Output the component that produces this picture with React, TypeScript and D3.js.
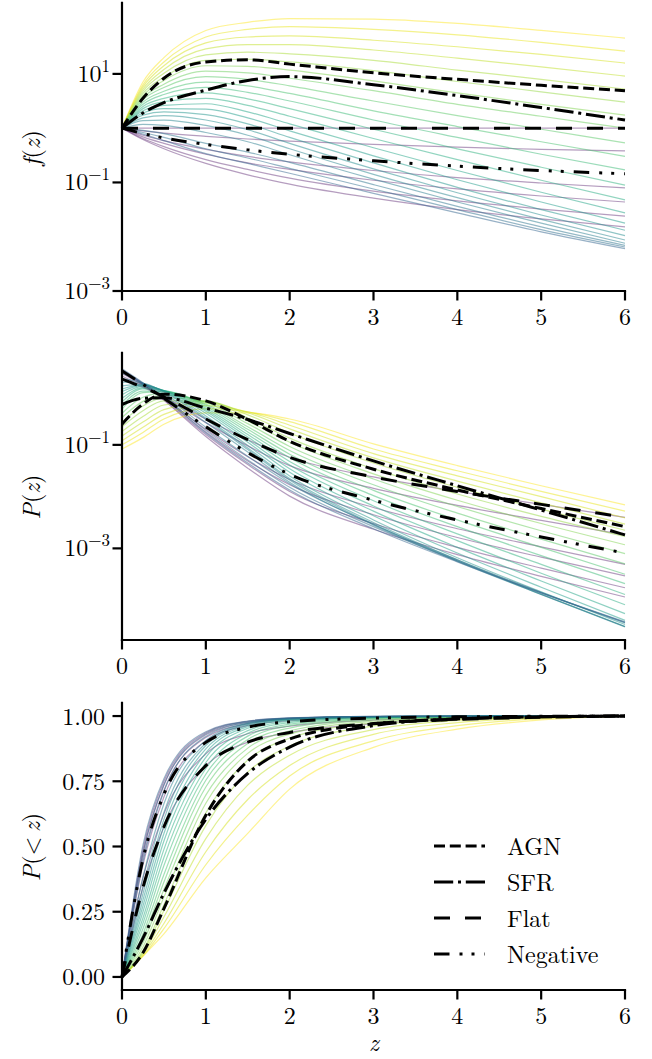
import React from 'react';
import * as d3 from 'd3';

// ---------- data ----------
const zNodes = [0, 0.25, 0.5, 1, 1.5, 2, 3, 4, 5, 6];

// log10 f(z) — viridis family, yellow (first) to blue (last)
const logF_viridis: number[][] = [
  [0, 0.85, 1.30, 1.80, 1.95, 2.02, 2.01, 1.93, 1.80, 1.66],
  [0, 0.80, 1.22, 1.68, 1.82, 1.87, 1.82, 1.72, 1.58, 1.42],
  [0, 0.76, 1.15, 1.57, 1.68, 1.70, 1.62, 1.50, 1.36, 1.20],
  [0, 0.72, 1.08, 1.46, 1.54, 1.54, 1.44, 1.29, 1.13, 0.96],
  [0, 0.68, 1.01, 1.35, 1.40, 1.37, 1.25, 1.07, 0.90, 0.72],
  [0, 0.64, 0.94, 1.25, 1.27, 1.22, 1.06, 0.86, 0.67, 0.48],
  [0, 0.60, 0.88, 1.15, 1.14, 1.07, 0.87, 0.65, 0.44, 0.24],
  [0, 0.56, 0.81, 1.05, 1.02, 0.92, 0.69, 0.44, 0.22, 0.00],
  [0, 0.52, 0.75, 0.95, 0.90, 0.78, 0.50, 0.23, -0.02, -0.27],
  [0, 0.48, 0.68, 0.85, 0.78, 0.64, 0.32, 0.03, -0.25, -0.52],
  [0, 0.44, 0.62, 0.75, 0.66, 0.50, 0.15, -0.17, -0.48, -0.77],
  [0, 0.40, 0.55, 0.65, 0.54, 0.36, -0.02, -0.38, -0.72, -1.05],
  [0, 0.36, 0.49, 0.55, 0.42, 0.22, -0.19, -0.58, -0.96, -1.32],
  [0, 0.32, 0.42, 0.45, 0.30, 0.08, -0.36, -0.78, -1.18, -1.56],
  [0, 0.28, 0.36, 0.35, 0.19, -0.05, -0.51, -0.95, -1.36, -1.75],
  [0, 0.24, 0.30, 0.25, 0.08, -0.17, -0.64, -1.09, -1.50, -1.88],
  [0, 0.19, 0.23, 0.15, -0.03, -0.28, -0.75, -1.19, -1.60, -1.98],
  [0, 0.14, 0.15, 0.05, -0.13, -0.38, -0.85, -1.28, -1.68, -2.06],
  [0, 0.07, 0.05, -0.08, -0.25, -0.49, -0.94, -1.36, -1.75, -2.12],
  [0, -0.04, -0.10, -0.28, -0.44, -0.63, -1.04, -1.44, -1.82, -2.16],
  [0, -0.08, -0.17, -0.38, -0.55, -0.74, -1.12, -1.50, -1.87, -2.19],
  [0, -0.11, -0.23, -0.47, -0.65, -0.83, -1.20, -1.56, -1.91, -2.22],
];
const logF_purple: number[][] = [
  [0, 0, 0, 0, 0, 0, 0, 0, 0, 0],
  [0, -0.05, -0.09, -0.15, -0.20, -0.24, -0.30, -0.35, -0.39, -0.42],
  [0, -0.13, -0.23, -0.39, -0.52, -0.62, -0.78, -0.91, -1.01, -1.10],
  [0, -0.16, -0.28, -0.48, -0.64, -0.76, -0.96, -1.12, -1.25, -1.36],
  [0, -0.19, -0.34, -0.58, -0.76, -0.92, -1.16, -1.34, -1.49, -1.62],
  [0, -0.21, -0.38, -0.65, -0.86, -1.03, -1.29, -1.50, -1.67, -1.82],
];
const logF_agn = [0, 0.55, 0.92, 1.22, 1.26, 1.18, 1.02, 0.90, 0.79, 0.69];
const logF_sfr = [0, 0.28, 0.47, 0.70, 0.88, 0.95, 0.80, 0.60, 0.38, 0.15];
const logF_flat = [0, 0, 0, 0, 0, 0, 0, 0, 0, 0];
const logF_neg = [0, -0.10, -0.18, -0.30, -0.40, -0.48, -0.60, -0.70, -0.78, -0.84];

// log10 P(z)
const logP_viridis: number[][] = [
  [-1.08, -0.86, -0.60, -0.38, -0.38, -0.50, -0.98, -1.40, -1.79, -2.16],
  [-1.00, -0.76, -0.50, -0.30, -0.36, -0.55, -1.08, -1.50, -1.90, -2.28],
  [-0.92, -0.66, -0.41, -0.24, -0.36, -0.62, -1.17, -1.60, -2.00, -2.41],
  [-0.83, -0.56, -0.32, -0.19, -0.38, -0.69, -1.25, -1.70, -2.12, -2.53],
  [-0.74, -0.45, -0.23, -0.16, -0.42, -0.77, -1.35, -1.82, -2.24, -2.65],
  [-0.65, -0.34, -0.15, -0.15, -0.48, -0.87, -1.46, -1.95, -2.38, -2.77],
  [-0.56, -0.25, -0.09, -0.16, -0.54, -0.95, -1.56, -2.07, -2.52, -2.93],
  [-0.47, -0.16, -0.04, -0.18, -0.59, -1.03, -1.66, -2.19, -2.66, -3.10],
  [-0.39, -0.08, 0.00, -0.21, -0.65, -1.11, -1.77, -2.32, -2.82, -3.30],
  [-0.31, 0.01, 0.03, -0.23, -0.70, -1.18, -1.88, -2.45, -2.98, -3.50],
  [-0.24, 0.04, 0.04, -0.26, -0.75, -1.25, -1.98, -2.58, -3.14, -3.68],
  [-0.17, 0.08, 0.05, -0.29, -0.80, -1.32, -2.08, -2.72, -3.31, -3.89],
  [-0.10, 0.10, 0.05, -0.32, -0.85, -1.39, -2.18, -2.85, -3.48, -4.09],
  [-0.03, 0.13, 0.05, -0.35, -0.90, -1.46, -2.28, -2.98, -3.63, -4.26],
  [0.03, 0.15, 0.05, -0.39, -0.95, -1.53, -2.37, -3.09, -3.75, -4.39],
  [0.08, 0.16, 0.04, -0.44, -1.01, -1.60, -2.45, -3.18, -3.84, -4.47],
  [0.14, 0.17, 0.03, -0.48, -1.06, -1.65, -2.50, -3.22, -3.88, -4.51],
  [0.21, 0.19, 0.02, -0.51, -1.09, -1.68, -2.53, -3.24, -3.89, -4.52],
  [0.28, 0.19, -0.01, -0.57, -1.14, -1.72, -2.55, -3.25, -3.89, -4.51],
  [0.39, 0.19, -0.05, -0.66, -1.22, -1.75, -2.54, -3.22, -3.85, -4.44],
  [0.43, 0.19, -0.08, -0.72, -1.29, -1.82, -2.58, -3.24, -3.86, -4.43],
  [0.47, 0.20, -0.10, -0.77, -1.35, -1.87, -2.62, -3.26, -3.86, -4.42],
];
const logP_purple: number[][] = [
  [0.27, 0.11, -0.07, -0.50, -0.90, -1.24, -1.62, -1.90, -2.15, -2.40],
  [0.33, 0.13, -0.08, -0.57, -1.02, -1.40, -1.84, -2.17, -2.46, -2.74],
  [0.38, 0.15, -0.10, -0.70, -1.23, -1.67, -2.21, -2.62, -2.97, -3.31],
  [0.41, 0.16, -0.11, -0.75, -1.31, -1.77, -2.35, -2.79, -3.17, -3.53],
  [0.43, 0.17, -0.13, -0.80, -1.38, -1.90, -2.52, -2.98, -3.38, -3.76],
  [0.45, 0.18, -0.14, -0.84, -1.45, -1.99, -2.63, -3.12, -3.54, -3.94],
];
const logP_agn = [-0.60, -0.21, -0.02, -0.15, -0.51, -0.93, -1.47, -1.87, -2.23, -2.58];
const logP_sfr = [-0.22, -0.10, -0.09, -0.29, -0.51, -0.78, -1.31, -1.79, -2.26, -2.74];
const logP_flat = [0.27, 0.11, -0.07, -0.50, -0.90, -1.24, -1.62, -1.90, -2.15, -2.40];
const logP_neg = [0.43, 0.17, -0.10, -0.65, -1.15, -1.57, -2.07, -2.45, -2.78, -3.09];

// P(<z)
const cdf_viridis: number[][] = [
  [0, 0.08, 0.165, 0.38, 0.55, 0.72, 0.88, 0.95, 0.985, 1.0],
  [0, 0.08, 0.185, 0.43, 0.62, 0.77, 0.905, 0.963, 0.99, 1.0],
  [0, 0.085, 0.205, 0.48, 0.68, 0.81, 0.93, 0.975, 0.993, 1.0],
  [0, 0.09, 0.23, 0.53, 0.735, 0.85, 0.948, 0.983, 0.995, 1.0],
  [0, 0.095, 0.255, 0.58, 0.785, 0.885, 0.962, 0.988, 0.997, 1.0],
  [0, 0.101, 0.277, 0.629, 0.831, 0.915, 0.974, 0.992, 0.998, 1.0],
  [0, 0.115, 0.306, 0.666, 0.857, 0.931, 0.980, 0.994, 0.998, 1.0],
  [0, 0.131, 0.335, 0.697, 0.877, 0.943, 0.985, 0.996, 0.999, 1.0],
  [0, 0.147, 0.364, 0.728, 0.895, 0.954, 0.989, 0.997, 0.999, 1.0],
  [0, 0.165, 0.393, 0.754, 0.910, 0.963, 0.991, 0.998, 1.0, 1.0],
  [0, 0.185, 0.427, 0.777, 0.923, 0.969, 0.993, 0.998, 1.0, 1.0],
  [0, 0.206, 0.458, 0.799, 0.934, 0.975, 0.995, 0.999, 1.0, 1.0],
  [0, 0.226, 0.489, 0.822, 0.944, 0.980, 0.996, 0.999, 1.0, 1.0],
  [0, 0.250, 0.521, 0.842, 0.953, 0.984, 0.997, 1.0, 1.0, 1.0],
  [0, 0.272, 0.550, 0.859, 0.959, 0.986, 0.997, 0.999, 1.0, 1.0],
  [0, 0.295, 0.579, 0.874, 0.964, 0.988, 0.998, 0.999, 1.0, 1.0],
  [0, 0.319, 0.604, 0.887, 0.968, 0.989, 0.998, 0.999, 1.0, 1.0],
  [0, 0.347, 0.631, 0.896, 0.971, 0.990, 0.998, 1.0, 1.0, 1.0],
  [0, 0.383, 0.664, 0.906, 0.973, 0.991, 0.998, 1.0, 1.0, 1.0],
  [0, 0.442, 0.711, 0.922, 0.976, 0.991, 0.998, 1.0, 1.0, 1.0],
  [0, 0.473, 0.738, 0.932, 0.979, 0.992, 0.999, 1.0, 1.0, 1.0],
  [0, 0.505, 0.760, 0.940, 0.981, 0.993, 0.999, 1.0, 1.0, 1.0],
];
const cdf_purple: number[][] = [
  [0, 0.343, 0.575, 0.810, 0.900, 0.937, 0.971, 0.987, 0.995, 1.0],
  [0, 0.380, 0.625, 0.855, 0.932, 0.961, 0.984, 0.993, 0.998, 1.0],
  [0, 0.430, 0.690, 0.905, 0.964, 0.982, 0.994, 0.998, 0.999, 1.0],
  [0, 0.455, 0.715, 0.918, 0.971, 0.987, 0.996, 0.999, 1.0, 1.0],
  [0, 0.475, 0.735, 0.928, 0.976, 0.990, 0.997, 0.999, 1.0, 1.0],
  [0, 0.490, 0.750, 0.936, 0.980, 0.992, 0.998, 0.999, 1.0, 1.0],
];
const cdf_agn = [0, 0.093, 0.262, 0.620, 0.827, 0.912, 0.970, 0.989, 0.997, 1.0];
const cdf_sfr = [0, 0.149, 0.321, 0.604, 0.780, 0.881, 0.963, 0.989, 0.997, 1.0];
const cdf_flat = [0, 0.343, 0.575, 0.810, 0.900, 0.937, 0.971, 0.987, 0.995, 1.0];
const cdf_neg = [0, 0.452, 0.700, 0.899, 0.957, 0.978, 0.992, 0.997, 0.999, 1.0];

const zTicks = [0, 1, 2, 3, 4, 5, 6];
const fTickExps = [-3, -1, 1];
const pTickExps = [-3, -1];
const cdfTicks = [0, 0.25, 0.5, 0.75, 1.0];
const legendLabels = ['AGN', 'SFR', 'Flat', 'Negative'];

// ---------- styling ----------
const TF: React.CSSProperties = { fontFamily: '"Latin Modern Roman"' };
const FS = 24;
const dashes: Record<string, string> = {
  AGN: '11 4.8',
  SFR: '19.2 4.8 3 4.8',
  Flat: '16 15',
  Negative: '15.5 10 3 9 3 10',
};

const X0 = 122, X1 = 625;
const xS = d3.scaleLinear().domain([0, 6]).range([X0, X1]);

const topY = d3.scaleLog().domain([1e-3, Math.pow(10, 2.33)]).range([291, 1.7]);
const midY = d3.scaleLog().domain([Math.pow(10, -4.77), Math.pow(10, 0.8)]).range([640, 351.7]);
const botY = d3.scaleLinear().domain([-0.05, 1.055]).range([990, 701.7]);

function linePath(vals: number[], y: (v: number) => number, isLog: boolean): string {
  const pts: [number, number][] = zNodes.map((z, i) => [z, isLog ? Math.pow(10, vals[i]) : vals[i]]);
  const gen = d3.line<[number, number]>()
    .x(d => xS(d[0]))
    .y(d => y(d[1]))
    .curve(d3.curveMonotoneX);
  return gen(pts) || '';
}

const viridisColor = (i: number) => d3.interpolateViridis(1 - (i * 0.68) / 21);
const purpleColor = d3.interpolateViridis(0.03);

function Curves({ vir, pur, blacks, y, isLog }: {
  vir: number[][]; pur: number[][]; blacks: [string, number[]][];
  y: (v: number) => number; isLog: boolean;
}) {
  return (
    <g fill="none">
      {pur.map((v, i) => (
        <path key={'p' + i} d={linePath(v, y, isLog)} stroke={purpleColor}
          strokeWidth={1.2} strokeOpacity={0.4} />
      ))}
      {vir.map((v, i) => (
        <path key={'v' + i} d={linePath(v, y, isLog)} stroke={viridisColor(i)}
          strokeWidth={1.2} strokeOpacity={0.5} />
      ))}
      {blacks.map(([name, v]) => (
        <path key={name} d={linePath(v, y, isLog)} stroke="#000" strokeWidth={3}
          strokeDasharray={dashes[name]} />
      ))}
    </g>
  );
}

function Axes({ top, bottom, yTicks }: { top: number; bottom: number; yTicks: { y: number; label: React.ReactNode }[] }) {
  const sw = 2.2;
  return (
    <g>
      <line x1={X0} x2={X0} y1={top} y2={bottom + sw / 2} stroke="#000" strokeWidth={sw} />
      <line x1={X0 - sw / 2} x2={X1 + sw / 2} y1={bottom} y2={bottom} stroke="#000" strokeWidth={sw} />
      {zTicks.map(t => (
        <g key={'x' + t}>
          <line x1={xS(t)} x2={xS(t)} y1={bottom} y2={bottom + 9.5} stroke="#000" strokeWidth={sw} />
          <text x={xS(t)} y={bottom + 34} textAnchor="middle" fontSize={FS} style={TF}>{t}</text>
        </g>
      ))}
      {yTicks.map((t, i) => (
        <g key={'y' + i}>
          <line x1={X0 - 9.5} x2={X0} y1={t.y} y2={t.y} stroke="#000" strokeWidth={sw} />
          {t.label}
        </g>
      ))}
    </g>
  );
}

function logLabel(exp: number, y: number) {
  const s = exp < 0 ? '\u2212' + Math.abs(exp) : String(exp);
  return (
    <text x={110} y={y + 8} textAnchor="end" fontSize={FS} style={TF}>
      10<tspan dy={-10} fontSize={17}>{s}</tspan>
    </text>
  );
}

export default function App() {
  const fTicks = fTickExps.map(e => ({ y: topY(Math.pow(10, e)), label: logLabel(e, topY(Math.pow(10, e))) }));
  const pTicks = pTickExps.map(e => ({ y: midY(Math.pow(10, e)), label: logLabel(e, midY(Math.pow(10, e))) }));
  const cTicks = cdfTicks.map(v => ({
    y: botY(v),
    label: <text x={105} y={botY(v) + 8.5} textAnchor="end" fontSize={FS} style={TF}>{v.toFixed(2)}</text>,
  }));

  const legendY = [846, 882, 918, 954];

  return (
    <svg width={652} height={1059} viewBox="0 0 652 1059"
      style={{ position: 'absolute', left: 0, top: 0, background: '#fff' }}>
      <rect x={0} y={0} width={652} height={1059} fill="#fff" />

      {/* Panel 1: f(z) */}
      <Curves vir={logF_viridis} pur={logF_purple} y={topY} isLog={true}
        blacks={[['AGN', logF_agn], ['SFR', logF_sfr], ['Flat', logF_flat], ['Negative', logF_neg]]} />
      <Axes top={1.7} bottom={291} yTicks={fTicks} />
      <text transform="translate(40,148) rotate(-90)" textAnchor="middle" fontSize={FS} style={TF}>
        <tspan fontStyle="italic">f</tspan>(<tspan fontStyle="italic">z</tspan>)
      </text>

      {/* Panel 2: P(z) */}
      <Curves vir={logP_viridis} pur={logP_purple} y={midY} isLog={true}
        blacks={[['AGN', logP_agn], ['SFR', logP_sfr], ['Flat', logP_flat], ['Negative', logP_neg]]} />
      <Axes top={351.7} bottom={640} yTicks={pTicks} />
      <text transform="translate(40,497) rotate(-90)" textAnchor="middle" fontSize={FS} style={TF}>
        <tspan fontStyle="italic">P</tspan>(<tspan fontStyle="italic">z</tspan>)
      </text>

      {/* Panel 3: P(<z) */}
      <Curves vir={cdf_viridis} pur={cdf_purple} y={botY} isLog={false}
        blacks={[['AGN', cdf_agn], ['SFR', cdf_sfr], ['Flat', cdf_flat], ['Negative', cdf_neg]]} />
      <Axes top={701.7} bottom={990} yTicks={cTicks} />
      <text transform="translate(40,847) rotate(-90)" textAnchor="middle" fontSize={FS} style={TF}>
        <tspan fontStyle="italic">P</tspan>({'<\u2009'}<tspan fontStyle="italic">z</tspan>)
      </text>
      <text x={374} y={1051} textAnchor="middle" fontSize={FS} fontStyle="italic" style={TF}>z</text>

      {/* Legend */}
      {legendLabels.map((name, i) => (
        <g key={name}>
          <line x1={434} x2={485} y1={legendY[i]} y2={legendY[i]} stroke="#000" strokeWidth={3}
            strokeDasharray={dashes[name]} />
          <text x={507} y={legendY[i] + 9} fontSize={FS} style={TF}>{name}</text>
        </g>
      ))}
    </svg>
  );
}
